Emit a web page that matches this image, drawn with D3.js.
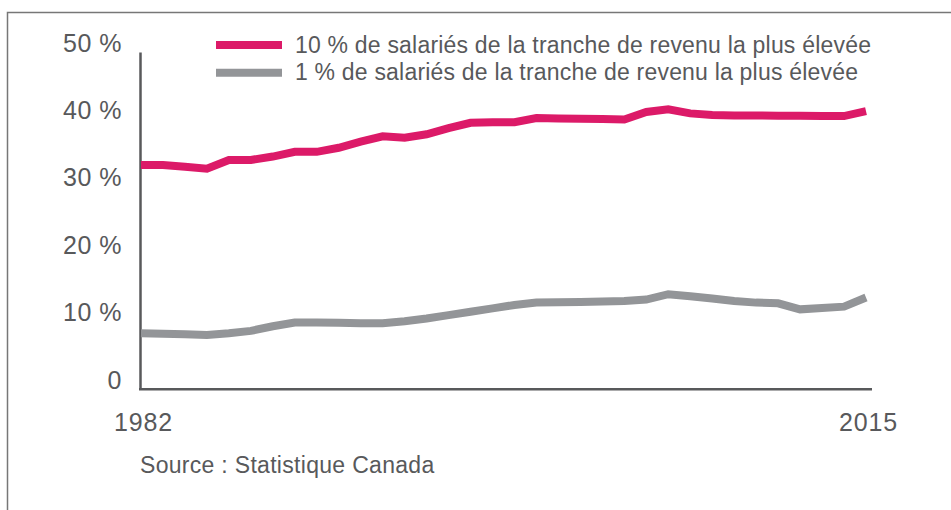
<!DOCTYPE html>
<html>
<head>
<meta charset="utf-8">
<script src="https://cdn.jsdelivr.net/npm/d3@7"></script>
<style>
	html, body { margin: 0; padding: 0; background: white; }
	svg { display: block; font-family: "Liberation Sans", Arial, Helvetica, sans-serif; }
</style>
</head>
<body>
<div id="chart"></div>
<script>
// années et parts (%)
let annees = d3.range(1982, 2016);
let top10 = [33.25, 33.25, 33.0, 32.7, 34.0, 34.0, 34.5, 35.2, 35.2, 35.8, 36.7, 37.5, 37.3, 37.8, 38.7, 39.5, 39.6, 39.6,
	40.2, 40.15, 40.1, 40.05, 40.0, 41.1, 41.5, 40.9, 40.65, 40.6, 40.6, 40.55, 40.55, 40.5, 40.5, 41.25];
let top1 = [8.3, 8.23, 8.15, 8.06, 8.3, 8.66, 9.35, 9.9, 9.9, 9.85, 9.8, 9.8, 10.1, 10.5, 11.0, 11.5, 12.0, 12.5,
	12.85, 12.9, 12.95, 13.0, 13.1, 13.3, 14.1, 13.8, 13.45, 13.1, 12.85, 12.75, 11.85, 12.05, 12.25, 13.6];
let series = [
	{nom: "10 % de salariés de la tranche de revenu la plus élevée", valeurs: top10, couleur: "#dc1a68"},
	{nom: "1 % de salariés de la tranche de revenu la plus élevée", valeurs: top1, couleur: "#939598"}
];
let yTicks = [0, 10, 20, 30, 40, 50];
let xTicks = [1982, 2015];
let source = "Source : Statistique Canada";

let width = 951, height = 510;
let gris = "#58595b";

let svg = d3.select("#chart").append("svg")
	.attr("width", width)
	.attr("height", height);

// cadre (haut et gauche)
svg.append("path")
	.attr("d", `M7.5,${height}V12.5H${width}`)
	.attr("fill", "none")
	.attr("stroke", "#777")
	.attr("stroke-width", 1.5);

let x = d3.scaleLinear([1982, 2015], [141, 866]);
let y = d3.scaleLinear([0, 50], [389.3, 52]);

// axe vertical
svg.append("g")
	.attr("transform", `translate(${x(1982) - 1},0)`)
	.call(d3.axisLeft(y).tickValues(yTicks).tickSize(0).tickPadding(18).tickFormat(v => v ? v + " %" : "0"))
	.call(g => g.select(".domain").attr("stroke", gris).attr("stroke-width", 2.5))
	.call(g => g.selectAll("text")
		.attr("dy", -1)
		.attr("font-size", 25)
		.attr("letter-spacing", 0.5)
		.attr("font-family", null)
		.attr("fill", gris));

// axe horizontal
svg.append("g")
	.attr("transform", `translate(0,${y(0)})`)
	.call(d3.axisBottom(x).tickValues(xTicks).tickSize(0).tickPadding(0).tickFormat(d3.format("d")))
	.call(g => g.select(".domain")
		.attr("d", `M${x(1982) - 2},0H${x(2015) + 6}`)
		.attr("stroke", gris).attr("stroke-width", 2.5))
	.call(g => g.selectAll("text")
		.attr("y", 0)
		.attr("dy", 42)
		.attr("dx", 2)
		.attr("font-size", 25)
		.attr("letter-spacing", 0.8)
		.attr("font-family", null)
		.attr("fill", gris));

// courbes
let line = d3.line()
	.x((d, i) => x(annees[i]))
	.y(d => y(d));
svg.append("g")
	.attr("fill", "none")
	.attr("stroke-width", 8)
	.attr("stroke-linejoin", "miter")
	.selectAll("path")
	.data(series)
	.join("path")
	.attr("stroke", d => d.couleur)
	.attr("d", d => line(d.valeurs));

// légende
let leg = svg.append("g")
	.selectAll("g")
	.data(series)
	.join("g")
	.attr("transform", (d, i) => `translate(216,${45 + i * 27.7})`);
leg.append("line")
	.attr("x2", 66)
	.attr("stroke", d => d.couleur)
	.attr("stroke-width", 8);
leg.append("text")
	.attr("x", 79)
	.attr("y", 7.5)
	.attr("font-size", 23)
	.attr("letter-spacing", 0.2)
	.attr("fill", gris)
	.text(d => d.nom);

// source
svg.append("text")
	.attr("x", 140)
	.attr("y", 473)
	.attr("font-size", 23)
	.attr("letter-spacing", 0.3)
	.attr("fill", gris)
	.text(source);
</script>
</body>
</html>
